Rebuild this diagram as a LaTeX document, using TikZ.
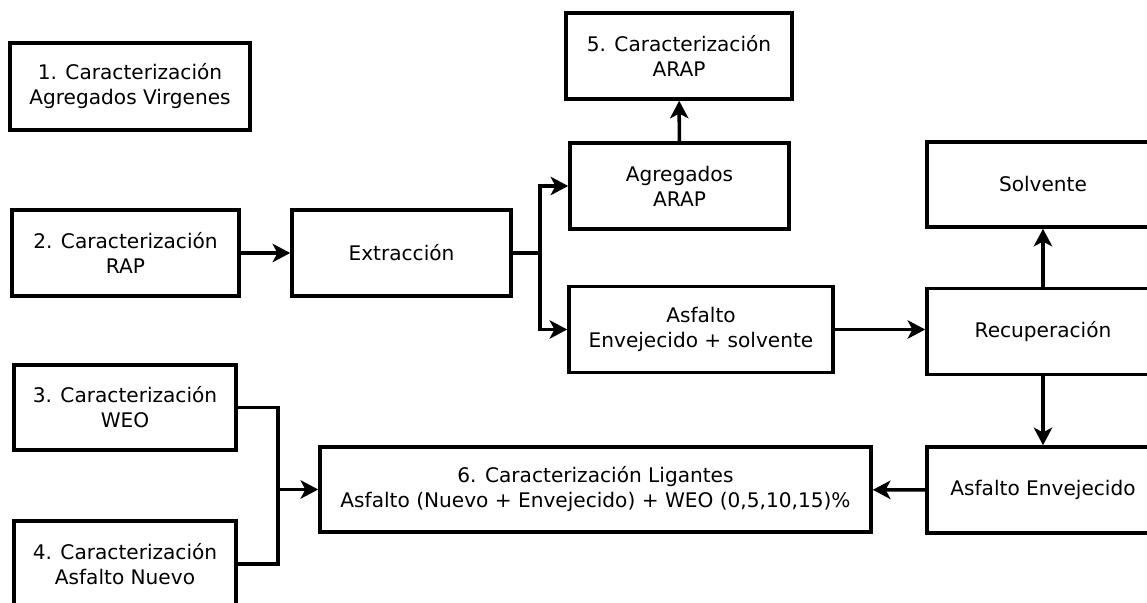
\documentclass[tikz,border=0pt]{standalone}
\usepackage{fontspec}
\setmainfont{DejaVu Sans}
\usetikzlibrary{arrows.meta}
\begin{document}
\begin{tikzpicture}[x=0.025cm, y=-0.025cm]

      \tikzset{block/.style={draw, line width=2.5pt, minimum height=2.15cm, align=center, font=\fontsize{14.3pt}{17.8pt}\selectfont},
               flow/.style={line width=2.5pt, -{Stealth[length=0.44cm, width=0.46cm, inset=0.12cm]}}}
      \useasboundingbox (0,0) rectangle (1147,603);
      \clip (0,0) rectangle (1147,603);
%% Boxes
      	\node[block, minimum width=6cm, minimum height=2.175cm] (agv) at (130,86.5) {1. Caracterización\\Agregados Virgenes};
      	\node[block, minimum width=5.675cm] (rap) at (125.5,253) {2. Caracterización\\RAP};
      	\node[block, minimum width=5.475cm] (extr) at (401.5,253) {Extracción};
      	\node[block, minimum width=5.475cm] (agr) at (679.5,186) {Agregados\\ARAP};
      	\node[block, minimum width=5.65cm] (arap) at (679,56) {5. Caracterización\\ARAP};
      	\node[block, minimum width=6.6cm] (asol) at (701,329.5) {Asfalto\\Envejecido + solvente};
      	\node[block, minimum width=5.8cm, minimum height=2.125cm] (solv) at (1043,184.5) {Solvente};
      	\node[block, minimum width=5.8cm] (recu) at (1043,331.5) {Recuperación};
      	\node[block, minimum width=5.8cm] (aenv) at (1043,490) {Asfalto Envejecido};
      	\node[block, minimum width=13.775cm, minimum height=2.125cm] (lig) at (595.5,489.5) {6. Caracterización Ligantes\\Asfalto (Nuevo + Envejecido) + WEO (0,5,10,15)\%};
      	\node[block, minimum width=5.55cm, minimum height=2.125cm] (weo) at (125,407.5) {3. Caracterización\\WEO};
      	\node[block, minimum width=5.55cm] (anue) at (125,564) {4. Caracterización\\Asfalto Nuevo};
%Connectors
		\coordinate (split) at (540,253);
		\coordinate (join) at (278,489.5);
		\draw[flow] (rap) -- (extr);
		\draw[line width=2.5pt] (extr) -- (split);
		\draw[flow] (split) |- (agr.west);
		\draw[flow] (split) |- (asol.west);
		\draw[flow] (agr) -- (arap);
		\draw[flow] (asol.east) -- (asol.east -| recu.west);
		\draw[flow] (recu) -- (solv);
		\draw[flow] (recu) -- (aenv);
		\draw[flow] (aenv) -- (lig);
		\draw[line width=2.5pt] (weo.east) -| (join) |- (anue.east);
		\draw[flow] (join) -- (lig.west);

	\end{tikzpicture}
\end{document}
